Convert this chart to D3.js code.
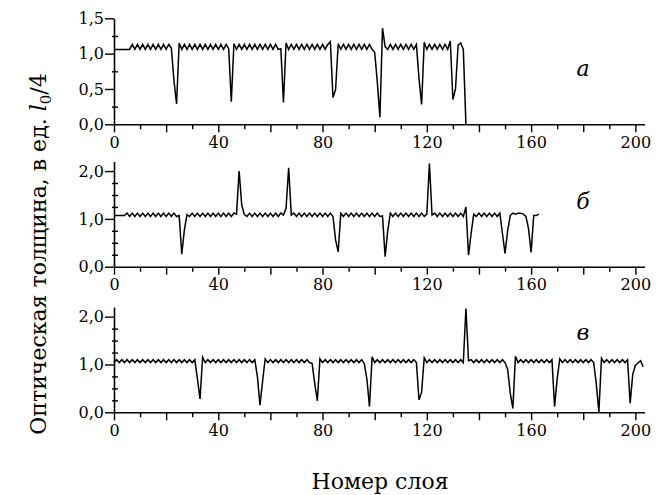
<!DOCTYPE html>
<html>
<head>
<meta charset="utf-8">
<script src="https://cdn.jsdelivr.net/npm/d3@7"></script>
<style>
  body { margin: 0; background: #fff; }
  text { font-family: "DejaVu Serif", "Liberation Serif", serif; fill: #000; }
</style>
</head>
<body>
<svg id="svg1"></svg>
<script>
// optical thickness of each layer, layer number = index
const seriesA = [
  1.06,1.06,1.06,1.06,1.06,1.06,1.06,1.13,1.06,1.13,
  1.06,1.13,1.06,1.13,1.06,1.13,1.06,1.13,1.06,1.13,
  1.06,1.13,1.08,0.62,0.29,1.15,1.06,1.13,1.06,1.13,
  1.06,1.13,1.06,1.13,1.06,1.13,1.06,1.13,1.06,1.13,
  1.06,1.13,1.06,1.13,1.07,0.32,1.14,1.06,1.13,1.06,
  1.13,1.06,1.13,1.06,1.13,1.06,1.13,1.06,1.13,1.06,
  1.13,1.06,1.13,1.06,1.07,0.31,1.15,1.06,1.13,1.06,
  1.13,1.06,1.13,1.06,1.13,1.06,1.13,1.06,1.13,1.06,
  1.13,1.06,1.13,1.17,0.38,0.49,1.14,1.06,1.13,1.06,
  1.13,1.06,1.13,1.06,1.13,1.06,1.13,1.06,1.13,1.06,
  1.02,0.60,0.10,1.36,1.10,1.06,1.13,1.06,1.13,1.06,
  1.13,1.06,1.13,1.06,1.13,1.06,1.13,0.65,0.28,1.16,
  1.06,1.13,1.06,1.13,1.06,1.13,1.06,1.13,1.06,1.18,
  0.35,0.50,1.12,1.15,1.06,0.00
];
const seriesB = [
  1.07,1.07,1.07,1.07,1.07,1.12,1.05,1.12,1.05,1.12,
  1.05,1.12,1.05,1.12,1.05,1.12,1.05,1.12,1.05,1.12,
  1.05,1.12,1.05,1.12,1.05,1.07,0.26,0.77,1.09,1.05,
  1.12,1.05,1.12,1.05,1.12,1.05,1.12,1.05,1.12,1.05,
  1.12,1.05,1.12,1.05,1.12,1.05,1.12,1.10,2.00,1.29,
  1.09,1.05,1.12,1.05,1.12,1.05,1.12,1.05,1.12,1.05,
  1.12,1.05,1.12,1.05,1.12,1.08,1.22,2.07,1.08,1.12,
  1.05,1.12,1.05,1.12,1.05,1.12,1.05,1.12,1.05,1.12,
  1.05,1.12,1.05,1.12,1.05,0.56,0.31,1.12,1.05,1.12,
  1.05,1.12,1.05,1.12,1.05,1.12,1.05,1.12,1.05,1.12,
  1.05,1.12,1.05,1.06,0.21,0.75,1.12,1.05,1.12,1.05,
  1.12,1.05,1.12,1.05,1.12,1.05,1.12,1.05,1.12,1.05,
  1.10,2.16,1.08,1.12,1.05,1.12,1.05,1.12,1.05,1.12,
  1.05,1.12,1.05,1.12,1.05,1.25,0.24,0.70,1.10,1.05,
  1.12,1.05,1.12,1.05,1.12,1.05,1.12,1.05,1.12,0.70,
  0.28,0.75,1.07,1.12,1.10,1.12,1.12,1.10,1.05,0.80,
  0.30,1.07,1.07,1.10
];
const seriesC = [
  1.04,1.10,1.04,1.10,1.04,1.10,1.04,1.10,1.04,1.10,
  1.04,1.10,1.04,1.10,1.04,1.10,1.04,1.10,1.04,1.10,
  1.04,1.10,1.04,1.10,1.04,1.10,1.04,1.10,1.04,1.10,
  1.04,1.10,0.70,0.28,1.15,1.04,1.10,1.04,1.10,1.04,
  1.10,1.04,1.10,1.04,1.10,1.04,1.10,1.04,1.10,1.04,
  1.10,1.04,1.10,1.04,1.10,0.75,0.15,0.65,1.12,1.04,
  1.10,1.04,1.10,1.04,1.10,1.04,1.10,1.04,1.10,1.04,
  1.10,1.04,1.10,1.04,1.10,1.04,1.02,0.60,0.24,1.12,
  1.04,1.10,1.04,1.10,1.04,1.10,1.04,1.10,1.04,1.10,
  1.04,1.10,1.04,1.10,1.04,1.10,1.02,0.70,0.12,1.16,
  1.04,1.10,1.04,1.10,1.04,1.10,1.04,1.10,1.04,1.10,
  1.04,1.10,1.04,1.10,1.04,1.10,1.04,0.26,0.42,1.14,
  1.04,1.10,1.04,1.10,1.04,1.10,1.04,1.10,1.04,1.10,
  1.04,1.10,1.04,1.10,1.04,2.17,1.08,1.10,1.04,1.10,
  1.04,1.10,1.04,1.10,1.04,1.10,1.04,1.10,1.04,1.10,
  1.04,0.90,0.40,0.08,1.17,1.04,1.10,1.04,1.10,1.04,
  1.10,1.04,1.10,1.04,1.10,1.04,1.10,1.04,1.10,0.12,
  0.70,1.12,1.04,1.10,1.04,1.10,1.04,1.10,1.04,1.10,
  1.04,1.10,1.04,1.10,1.04,0.60,0.00,1.13,1.04,1.10,
  1.04,1.10,1.04,1.10,1.04,1.10,1.04,1.10,0.19,0.80,
  0.98,1.03,1.08,0.95
];
const panelLetters = ["а", "б", "в"];
const xTicks = [0, 10, 20, 30, 40, 50, 60, 70, 80, 90, 100, 110, 120, 130, 140, 150, 160, 170, 180, 190, 200];
const xLabels = [0, 40, 80, 120, 160, 200];
const yTicksA = [0, 0.25, 0.5, 0.75, 1, 1.25, 1.5];
const yLabelsA = [0, 0.5, 1, 1.5];
const yTicksBC = [0, 0.25, 0.5, 0.75, 1, 1.25, 1.5, 1.75, 2];
const yLabelsBC = [0, 1, 2];

const width = 657;
const height = 495;

const svg = d3.select('#svg1')
    .attr('width', width)
    .attr('height', height);

const x = d3.scaleLinear()
    .domain([0, 203.5])
    .range([114, 644.5]);

const fmt = v => d3.format(".1f")(v).replace(".", ",");

// each panel: its data, y extent and where it sits on the page
const panels = [
  {data: seriesA, yMax: 1.5, bottom: 124.3, top: 18.3, ticks: yTicksA, labels: yLabelsA, letterY: 70},
  {data: seriesB, yMax: 2.2, bottom: 266.7, top: 161.5, ticks: yTicksBC, labels: yLabelsBC, letterY: 203},
  {data: seriesC, yMax: 2.2, bottom: 412.3, top: 307.1, ticks: yTicksBC, labels: yLabelsBC, letterY: 334}
];

panels.forEach(function(p, i) {
  const y = d3.scaleLinear()
      .domain([0, p.yMax])
      .range([p.bottom, p.top]);

  // X axis
  const gx = svg.append("g")
      .attr("transform", "translate(0," + p.bottom + ")")
      .call(d3.axisBottom(x)
        .tickValues(xTicks)
        .tickSizeOuter(0)
        .tickFormat(d => xLabels.includes(d) ? d : ""));
  gx.select(".domain").attr("stroke-width", 1.6);
  gx.selectAll(".tick line")
      .attr("stroke-width", 1.4)
      .attr("y2", d => d % 20 === 0 ? 8 : 5);
  gx.selectAll(".tick text")
      .attr("y", 12)
      .style("font-size", "16px");

  // Y axis
  const gy = svg.append("g")
      .attr("transform", "translate(114,0)")
      .call(d3.axisLeft(y)
        .tickValues(p.ticks)
        .tickSizeOuter(0)
        .tickFormat(d => p.labels.includes(d) ? fmt(d) : ""));
  gy.select(".domain").attr("stroke-width", 1.6);
  gy.selectAll(".tick line")
      .attr("stroke-width", 1.4)
      .attr("x1", d => p.labels.includes(d) ? 0 : 4)
      .attr("x2", d => p.labels.includes(d) ? -9 : -2);
  gy.selectAll(".tick text")
      .attr("x", -10)
      .style("font-size", "16px");

  // the series
  const line = d3.line()
      .x((d, k) => x(k))
      .y(d => y(d));
  svg.append("path")
      .datum(p.data)
      .attr("fill", "none")
      .attr("stroke", "#000")
      .attr("stroke-width", 1.5)
      .attr("stroke-linejoin", "miter")
      .attr("d", line);

  svg.append("text")
      .attr("x", 583)
      .attr("y", p.letterY)
      .attr("text-anchor", "middle")
      .attr("dominant-baseline", "middle")
      .style("font-size", "22px")
      .style("font-style", "italic")
      .text(panelLetters[i]);
});

// axis titles
svg.append("text")
    .attr("x", 380)
    .attr("y", 489)
    .attr("text-anchor", "middle")
    .style("font-size", "22px")
    .text("Номер слоя");

const yTitle = svg.append("text")
    .attr("transform", "translate(46,254) rotate(-90)")
    .attr("text-anchor", "middle")
    .style("font-size", "22px");
yTitle.append("tspan").text("Оптическая толщина, в ед. ");
yTitle.append("tspan").style("font-style", "italic").text("l");
yTitle.append("tspan").attr("dy", 5).style("font-size", "15px").text("0");
yTitle.append("tspan").attr("dy", -5).text("/4");
</script>
</body>
</html>
